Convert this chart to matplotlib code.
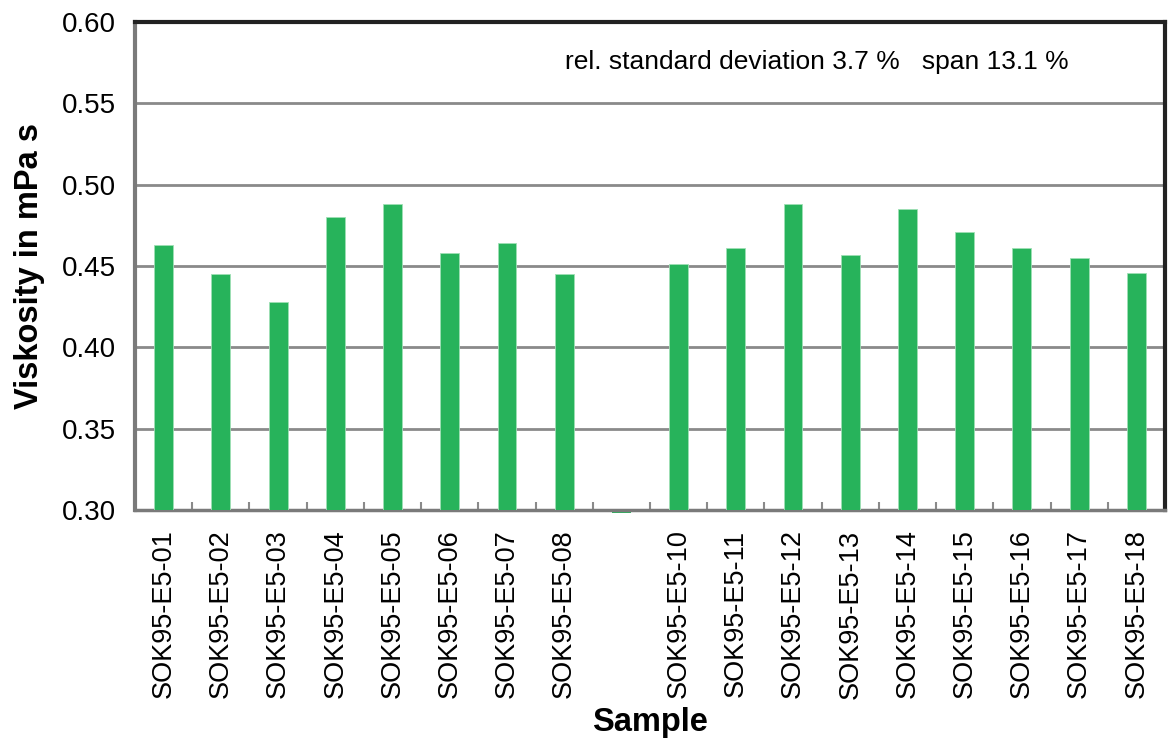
import numpy as np
import matplotlib
matplotlib.use("Agg")
import matplotlib.pyplot as plt

plt.rcParams['font.family'] = ['Liberation Sans', 'DejaVu Sans']

# sample names (9th sample has no valid value)
samples = ['SOK95-E5-01', 'SOK95-E5-02', 'SOK95-E5-03', 'SOK95-E5-04',
           'SOK95-E5-05', 'SOK95-E5-06', 'SOK95-E5-07', 'SOK95-E5-08',
           '', 'SOK95-E5-10', 'SOK95-E5-11', 'SOK95-E5-12', 'SOK95-E5-13',
           'SOK95-E5-14', 'SOK95-E5-15', 'SOK95-E5-16', 'SOK95-E5-17',
           'SOK95-E5-18']
viscosity = [0.463, 0.445, 0.428, 0.480, 0.488, 0.458, 0.464, 0.445,
             0.0, 0.451, 0.461, 0.488, 0.457, 0.485, 0.471, 0.461, 0.455,
             0.446]
y_ticks = [0.30, 0.35, 0.40, 0.45, 0.50, 0.55, 0.60]
note = 'rel. standard deviation 3.7 %   span 13.1 %'

bar_color = '#27B35B'
ymin, ymax = 0.30, 0.60

fig = plt.figure(figsize=(11.68, 7.38), dpi=100)
ax = fig.add_axes([0.1156, 0.309, 0.8818, 0.661])

x = np.arange(len(samples))
vals = np.array(viscosity)
ok = vals >= ymin
ax.bar(x[ok], vals[ok] - ymin, bottom=ymin, width=0.33, color=bar_color,
       edgecolor='#9fe0b5', linewidth=0.6, zorder=3)
# values below the axis minimum show up as a small stub under the axis
for xi in x[~ok]:
    ax.bar(xi, -0.002, bottom=ymin, width=0.33, color=bar_color,
           clip_on=False, zorder=1)

ax.set_xlim(-0.5, len(samples) - 0.5)
ax.set_ylim(ymin, ymax)
ax.set_yticks(y_ticks)
ax.set_yticklabels([f'{t:.2f}' for t in y_ticks], fontsize=20)
ax.tick_params(axis='y', length=0, pad=14)
ax.yaxis.grid(True, color='#8a8a8a', linewidth=2, zorder=0)
ax.set_axisbelow(True)

ax.set_xticks(x)
ax.set_xticklabels(samples, rotation=90, fontsize=19.5)
ax.tick_params(axis='x', length=0, pad=14)
ax.set_xticks(np.arange(0.5, len(samples) - 0.5, 1), minor=True)
ax.tick_params(axis='x', which='minor', direction='in', length=6,
               width=1.5, color='#8a8a8a')

ax.spines['left'].set_color('#7a7a7a')
ax.spines['left'].set_linewidth(3)
ax.spines['bottom'].set_color('#7a7a7a')
ax.spines['bottom'].set_linewidth(2.5)
ax.spines['top'].set_color('#222222')
ax.spines['top'].set_linewidth(3)
ax.spines['right'].set_color('#222222')
ax.spines['right'].set_linewidth(3)

ax.set_ylabel('Viskosity in mPa s', fontsize=23.5, fontweight='bold', labelpad=12)
ax.set_xlabel('Sample', fontsize=23.5, fontweight='bold', labelpad=6)

ax.text(0.4175, 0.918, note, transform=ax.transAxes, fontsize=19,
        ha='left', va='center')

fig.savefig('out.png', dpi=100)
